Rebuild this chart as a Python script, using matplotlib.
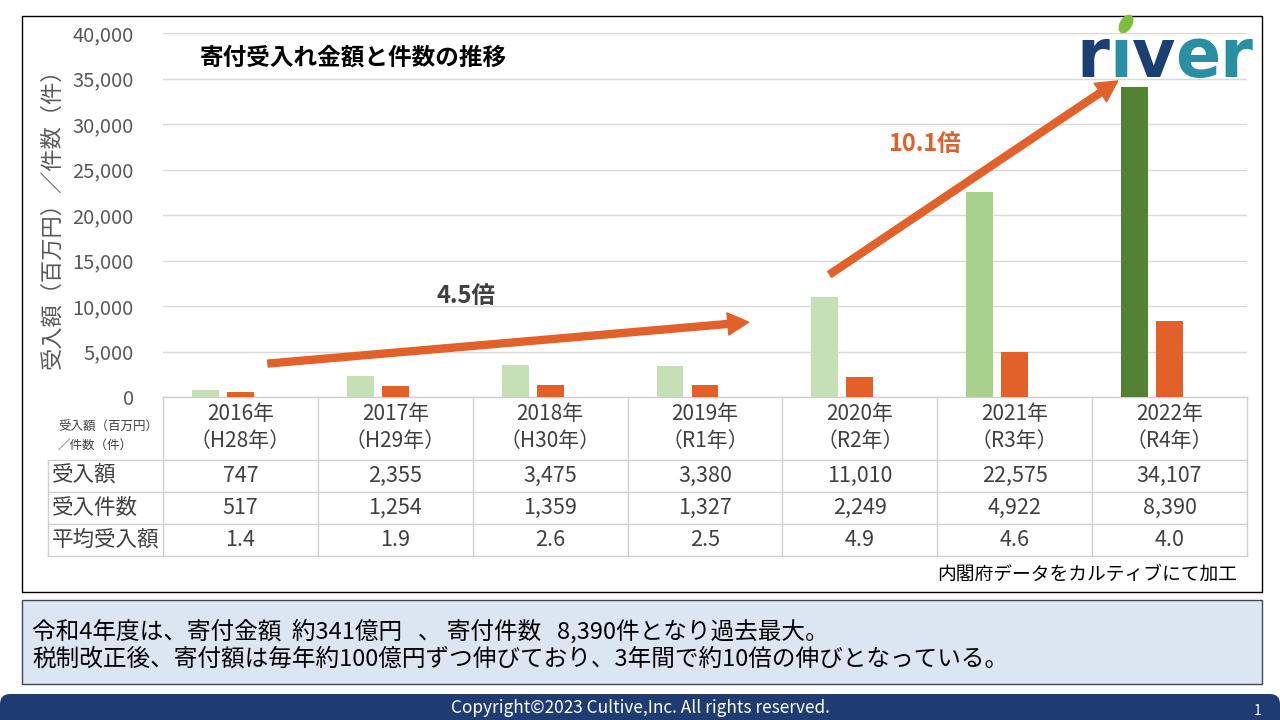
import numpy as np
import matplotlib
matplotlib.use('Agg')
import matplotlib.pyplot as plt
from matplotlib.patches import Rectangle, FancyBboxPatch, FancyArrowPatch, Ellipse

plt.rcParams['font.family'] = ['Noto Sans CJK JP', 'DejaVu Sans']

# データ
years = ['2016年', '2017年', '2018年', '2019年', '2020年', '2021年', '2022年']
eras = ['（H28年）', '（H29年）', '（H30年）', '（R1年）', '（R2年）', '（R3年）', '（R4年）']
amount = [747, 2355, 3475, 3380, 11010, 22575, 34107]      # 受入額（百万円）
count = [517, 1254, 1359, 1327, 2249, 4922, 8390]          # 受入件数（件）
avg = [1.4, 1.9, 2.6, 2.5, 4.9, 4.6, 4.0]                  # 平均受入額
row_names = ['受入額', '受入件数', '平均受入額']

green = ['#c5e0b4'] * 5 + ['#a9d18e', '#548235']
orange = '#e2612b'
grid_c = '#d9d9d9'
text_c = '#404040'

W, H = 1280, 720
fig = plt.figure(figsize=(12.8, 7.2), dpi=100)

# 背景用キャンバス（ピクセル座標）
cv = fig.add_axes([0, 0, 1, 1], zorder=0)
cv.set_xlim(0, W)
cv.set_ylim(H, 0)
cv.axis('off')

# 外枠
cv.add_patch(Rectangle((22, 16), 1240, 576, fc='none', ec='black', lw=1))

# グラフ本体
L, R, T, B = 163, 1247, 33, 397
ax = fig.add_axes([L / W, 1 - B / H, (R - L) / W, (B - T) / H], zorder=1)
ax.patch.set_alpha(0)
x = np.arange(len(years))
ax.bar(x - 0.226, amount, width=0.174, color=green, zorder=2)
ax.bar(x, count, width=0.174, color=orange, zorder=2)
ax.set_xlim(-0.5, len(years) - 0.5)
ax.set_ylim(0, 40000)
ax.set_yticks(range(0, 40001, 5000))
ax.set_yticklabels([f'{v:,}' for v in range(0, 40001, 5000)])
ax.yaxis.grid(True, color=grid_c, lw=1)
ax.set_axisbelow(True)
ax.set_xticks([])
ax.tick_params(axis='y', length=0, pad=21, labelsize=14.5, labelcolor='#595959')
for s in ax.spines.values():
    s.set_visible(False)

# 矢印と倍率
arrow_style = 'simple,head_width=1.6,head_length=1.5,tail_width=0.5'
ax.add_patch(FancyArrowPatch((0.16, 3650), (3.3, 8250), arrowstyle=arrow_style,
                             mutation_scale=10, color=orange, zorder=3))
ax.add_patch(FancyArrowPatch((3.79, 13300), (5.68, 34900), arrowstyle=arrow_style,
                             mutation_scale=10, color=orange, zorder=3))
ax.text(1.46, 11100, '4.5倍', fontsize=17, fontweight='bold', color=text_c, ha='center', va='center')
ax.text(4.42, 27800, '10.1倍', fontsize=17, fontweight='bold', color=orange, ha='center', va='center')

# タイトル・軸ラベル
cv.text(200, 58, '寄付受入れ金額と件数の推移', fontsize=17, fontweight='bold', color='black', va='center')
cv.text(52, 213, '受入額（百万円）／件数（件）', fontsize=16, color='#595959', rotation=90, ha='center', va='center')

# 表
colw = (R - L) / len(years)
rows_y = [397, 460, 492, 524, 556]
lc = '#d0d0d0'
cv.plot([L, R], [397, 397], color=lc, lw=1)
for yy in rows_y[1:]:
    cv.plot([48, R], [yy, yy], color=lc, lw=1)
cv.plot([48, 48], [460, 556], color=lc, lw=1)
for i in range(len(years) + 1):
    cv.plot([L + i * colw] * 2, [397, 556], color=lc, lw=1)

cv.text(58, 427, '受入額（百万円）', fontsize=9, color=text_c, va='center')
cv.text(58, 445, '／件数（件）', fontsize=9, color=text_c, va='center')
for j, name in enumerate(row_names):
    cv.text(52, (rows_y[j + 1] + rows_y[j + 2]) / 2, name, fontsize=15.5, color=text_c, va='center')

for i in range(len(years)):
    cx = L + (i + 0.5) * colw
    cv.text(cx, 414, years[i], fontsize=15, color=text_c, ha='center', va='center')
    cv.text(cx, 441, eras[i], fontsize=15, color=text_c, ha='center', va='center')
    cells = [f'{amount[i]:,}', f'{count[i]:,}', f'{avg[i]:.1f}']
    for j, s in enumerate(cells):
        cv.text(cx, (rows_y[j + 1] + rows_y[j + 2]) / 2, s, fontsize=15.5, color=text_c, ha='center', va='center')

cv.text(1237, 574, '内閣府データをカルティブにて加工', fontsize=13.5, color='black', ha='right', va='center')

# ロゴ
navy = '#1b3f73'
teal = '#2a8fa3'
logo = [('r', 1093, navy), ('ı', 1121, teal), ('v', 1154, navy), ('e', 1198, teal), ('r', 1236, teal)]
for ch, lx, lcol in logo:
    cv.text(lx, 58, ch, fontsize=48, fontweight='bold', color=lcol, ha='center', va='center',
            family=['DejaVu Sans'])
cv.add_patch(Ellipse((1126, 24), 11, 19, angle=30, color='#7dbf3a'))

# コメント欄
cv.add_patch(Rectangle((22, 600), 1240, 84, fc='#dce6f2', ec='#3b4a5a', lw=1))
cv.text(32, 631, '令和4年度は、寄付金額  約341億円   、 寄付件数   8,390件となり過去最大。', fontsize=17, color='black', va='center')
cv.text(32, 659, '税制改正後、寄付額は毎年約100億円ずつ伸びており、3年間で約10倍の伸びとなっている。', fontsize=17, color='black', va='center')

# フッター
cv.add_patch(FancyBboxPatch((0, 694), W, 60, boxstyle='round,pad=0,rounding_size=10', fc='#1f3c72', ec='none'))
cv.text(640, 708, 'Copyright©2023 Cultive,Inc. All rights reserved.', fontsize=12.4, color='white', ha='center', va='center')
cv.text(1258, 711, '1', fontsize=10, color='white', ha='center', va='center')

fig.savefig('out.png', dpi=100)
